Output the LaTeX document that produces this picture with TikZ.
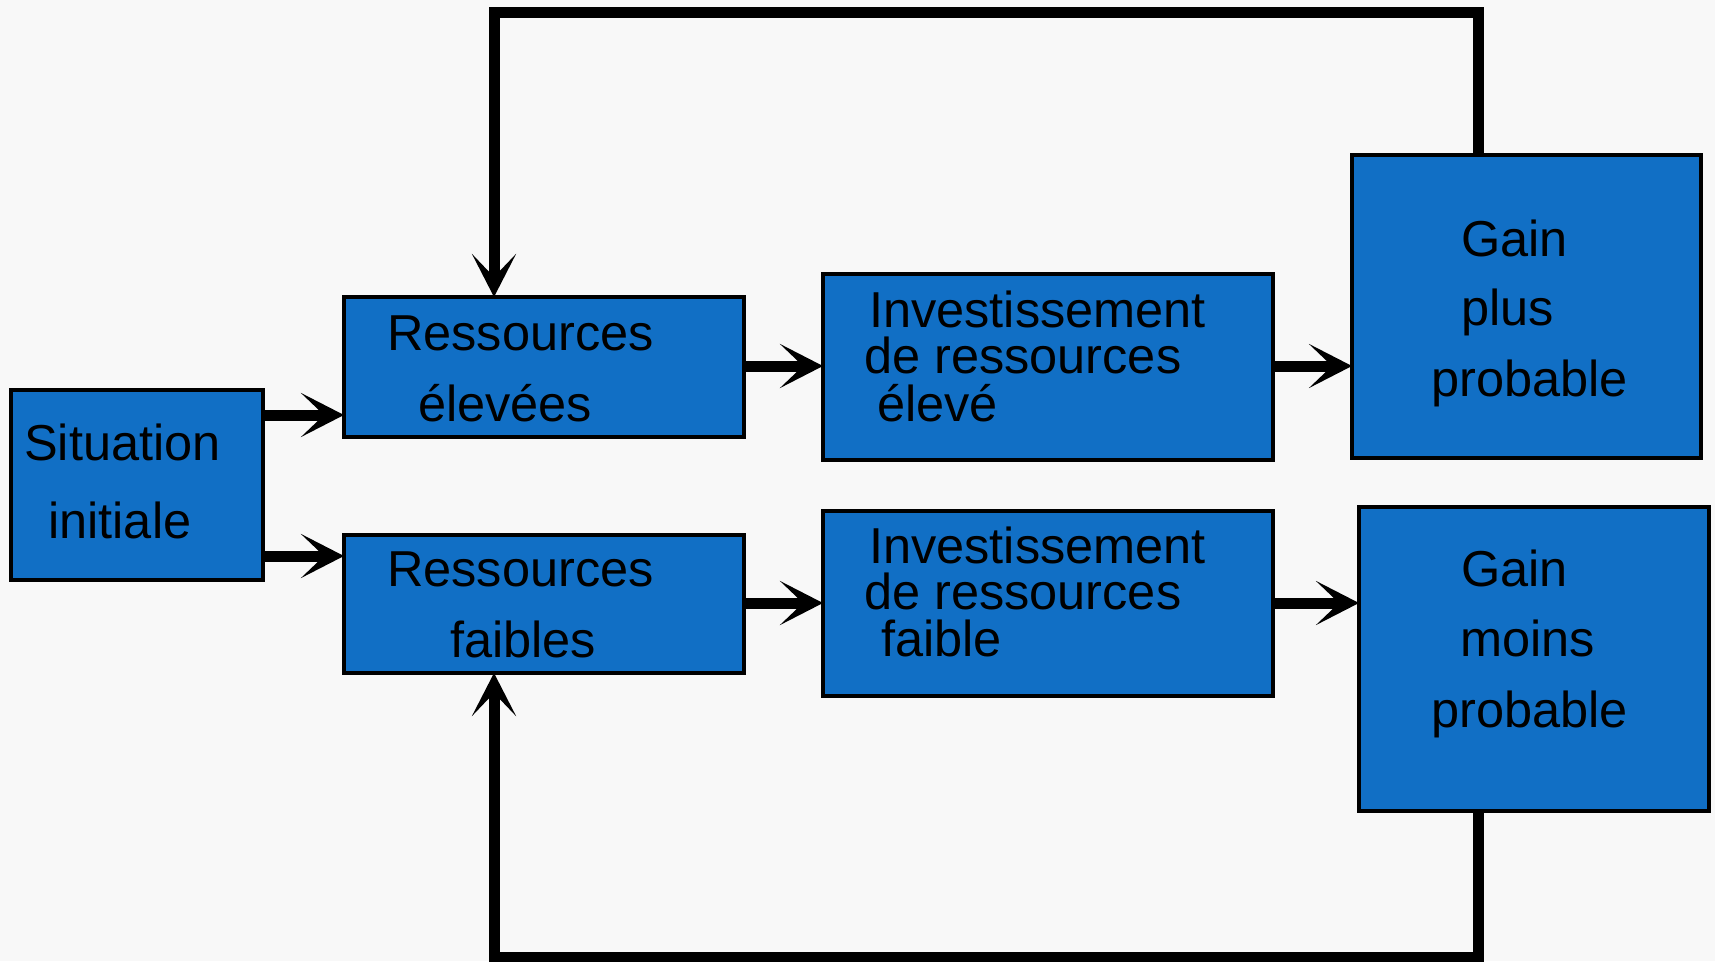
\documentclass[tikz,border=0pt]{standalone}
\usepackage{fontspec}
\setmainfont{Liberation Sans}
\usetikzlibrary{arrows.meta}
\definecolor{boxblue}{RGB}{17,111,197}
\definecolor{bg}{RGB}{248,248,248}
\begin{document}
\begin{tikzpicture}[x=1pt,y=-1pt,
  box/.style={draw=black, line width=4pt, fill=boxblue, rectangle, anchor=north west, inner sep=0pt, outer sep=0pt},
  lbl/.style={anchor=base west, inner sep=0pt, font=\fontsize{50.5}{60}\selectfont},
  arr/.style={line width=11pt, -{Stealth[length=43pt,width=44pt,inset=23pt]}},
  fb/.style={line width=11pt, line join=miter, -{Stealth[length=43pt,width=44pt,inset=23pt]}}]
\fill[bg] (0,0) rectangle (1715,961);
\useasboundingbox (0,0) rectangle (1715,961);
% boxes
\node[box, minimum width=252pt, minimum height=190pt] (sit) at (11,390) {};
\node[box, minimum width=400pt, minimum height=140pt] (re) at (344,297) {};
\node[box, minimum width=400pt, minimum height=138pt] (rf) at (344,535) {};
\node[box, minimum width=450pt, minimum height=186pt] (ie) at (823,274) {};
\node[box, minimum width=450pt, minimum height=185pt] (if) at (823,511) {};
\node[box, minimum width=349pt, minimum height=303pt] (gp) at (1352,155) {};
\node[box, minimum width=350pt, minimum height=304pt] (gm) at (1359,507) {};
% labels
\node[lbl] (t1) at (24,460) {Situation};
\node[lbl] (t2) at (48,538) {initiale};
\node[lbl] (t3) at (387,350) {Ressources};
\node[lbl] (t4) at (418,421) {élevées};
\node[lbl] (t5) at (387,586) {Ressources};
\node[lbl] (t6) at (450,657) {faibles};
\node[lbl] (t7) at (869,327) {Investissement};
\node[lbl] (t8) at (864,373) {de ressources};
\node[lbl] (t9) at (877,421) {élevé};
\node[lbl] (t10) at (869,563) {Investissement};
\node[lbl] (t11) at (864,609) {de ressources};
\node[lbl] (t12) at (881,656) {faible};
\node[lbl] (t13) at (1461,256) {Gain};
\node[lbl] (t14) at (1461,325) {plus};
\node[lbl] (t15) at (1431,396) {probable};
\node[lbl] (t16) at (1461,586) {Gain};
\node[lbl] (t17) at (1460,656) {moins};
\node[lbl] (t18) at (1431,727) {probable};
% arrows
\draw[arr] (sit.east |- 0,415) -- (re.west |- 0,415);
\draw[arr] (sit.east |- 0,556) -- (rf.west |- 0,556);
\draw[arr] (re.east |- 0,366) -- (ie.west |- 0,366);
\draw[arr] (rf.east |- 0,603) -- (if.west |- 0,603);
\draw[arr] (ie.east |- 0,366) -- (gp.west |- 0,366);
\draw[arr] (if.east |- 0,603) -- (gm.west |- 0,603);
% feedback loops
\coordinate (tr) at (1478,12);
\coordinate (tl) at (494,12);
\coordinate (br) at (1478,957);
\coordinate (bl) at (494,957);
\draw[fb] (gp.north -| tr) -- (tr) -- (tl) -- (re.north -| tl);
\draw[fb] (gm.south -| br) -- (br) -- (bl) -- (rf.south -| bl);
\end{tikzpicture}
\end{document}
